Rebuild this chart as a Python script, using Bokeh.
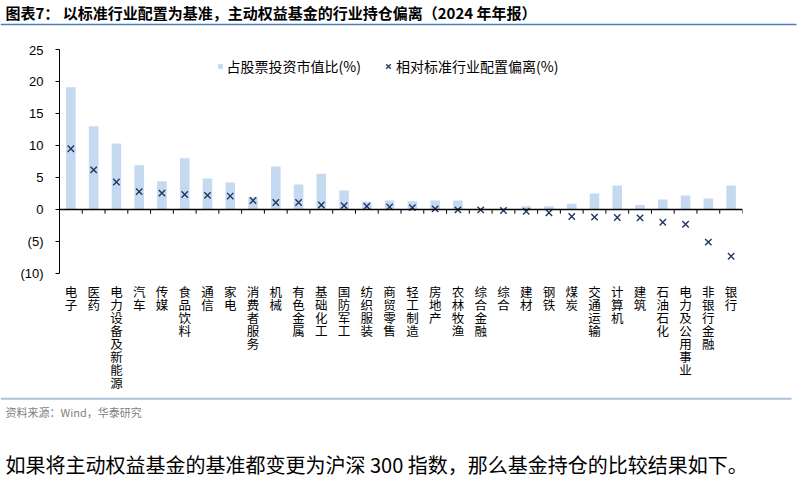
import numpy as np
from bokeh.plotting import figure
from bokeh.layouts import column
from bokeh.models import (FactorRange, Range1d, FixedTicker, Span, Label, BoxAnnotation,
                          Legend, LegendItem, CustomJSTickFormatter, ColumnDataSource)
from bokeh.core.properties import value
from bokeh.transform import dodge
from bokeh.embed import file_html
from bokeh.resources import INLINE

categories = ["电子", "医药", "电力设备及新能源", "汽车", "传媒", "食品饮料", "通信", "家电",
              "消费者服务", "机械", "有色金属", "基础化工", "国防军工", "纺织服装", "商贸零售",
              "轻工制造", "房地产", "农林牧渔", "综合金融", "综合", "建材", "钢铁", "煤炭",
              "交通运输", "计算机", "建筑", "石油石化", "电力及公用事业", "非银行金融", "银行"]
holding_pct = [19.1, 13.0, 10.3, 6.9, 4.4, 8.0, 4.85, 4.2,
               1.9, 6.7, 3.9, 5.6, 2.95, 1.2, 1.4,
               1.3, 1.4, 1.4, 0.05, 0.05, 0.5, 0.5, 0.9,
               2.5, 3.75, 0.7, 1.55, 2.2, 1.7, 3.75]
deviation_pct = [9.5, 6.2, 4.3, 2.8, 2.55, 2.35, 2.2, 2.1,
                 1.4, 1.1, 1.1, 0.7, 0.6, 0.5, 0.4,
                 0.3, 0.1, -0.05, -0.05, -0.15, -0.3, -0.5, -1.1,
                 -1.2, -1.25, -1.3, -2.0, -2.3, -5.1, -7.3]
y_ticks = [-10, -5, 0, 5, 10, 15, 20, 25]
y_tick_labels = ["(10)", "(5)", "0", "5", "10", "15", "20", "25"]
series_names = ["占股票投资市值比(%)", "相对标准行业配置偏离(%)"]
title_text = "图表7：  以标准行业配置为基准，主动权益基金的行业持仓偏离（2024 年年报）"
source_text = "资料来源：Wind，华泰研究"
paragraph_text = "如果将主动权益基金的基准都变更为沪深 300 指数，那么基金持仓的比较结果如下。"

CJK = "Noto Sans CJK SC"
LAT = "Liberation Sans"
BAR_COLOR = "#c5d9f1"
MARK_COLOR = "#1f3864"

W = 800
H_TOP, H_MAIN, H_LAB, H_BOT = 42, 239, 114, 84
L, R = 59, 58


def bare(height, **kw):
    f = figure(width=W, height=height, output_backend="svg", toolbar_location=None,
               x_axis_location=None, y_axis_location=None, frame_align=False, **kw)
    f.xgrid.visible = False
    f.ygrid.visible = False
    f.outline_line_color = None
    f.background_fill_color = "white"
    f.border_fill_color = "white"
    return f


# ---- top strip: title + rule
top = bare(H_TOP, x_range=Range1d(0, 1), y_range=Range1d(0, 1), min_border=0)
top.add_layout(Label(x=5, y=H_TOP - 12, x_units="screen", y_units="screen", text=title_text,
                     text_font=CJK, text_font_style="bold", text_font_size="15px",
                     text_baseline="middle", text_align="left", text_color="black"))
top.add_layout(BoxAnnotation(left=0, right=796, top=H_TOP - 23.2, bottom=H_TOP - 24.8,
                             left_units="screen", right_units="screen",
                             top_units="screen", bottom_units="screen",
                             fill_color="#4a7ebb", fill_alpha=1, line_alpha=0))

# ---- main chart
x_range = FactorRange(factors=categories)
p = figure(width=W, height=H_MAIN, x_range=x_range,
           y_range=Range1d(y_ticks[0], y_ticks[-1]),
           output_backend="svg", toolbar_location=None, x_axis_location=None,
           frame_align=False,
           min_border_left=L, min_border_right=R, min_border_top=7, min_border_bottom=8)
p.xgrid.visible = False
p.ygrid.visible = False
p.outline_line_color = None
p.background_fill_color = "white"
p.border_fill_color = "white"

p.yaxis.ticker = FixedTicker(ticks=y_ticks)
p.yaxis.formatter = CustomJSTickFormatter(args=dict(tvals=y_ticks, tlabels=y_tick_labels), code="""
const i = tvals.indexOf(tick);
return i >= 0 ? tlabels[i] : String(tick);
""")
p.yaxis.major_label_text_font = LAT
p.yaxis.major_label_text_font_size = "13px"
p.yaxis.major_label_text_color = "black"
p.yaxis.axis_line_color = "black"
p.yaxis.major_tick_line_color = "black"
p.yaxis.major_tick_in = 0
p.yaxis.major_tick_out = 4
p.yaxis.minor_tick_line_color = None
p.yaxis.major_label_standoff = 12

p.add_layout(Span(location=0, dimension="width", line_color="black", line_width=1.3))
tick_src = ColumnDataSource(dict(cat=categories,
                                 y0=np.zeros(len(categories)),
                                 y1=np.full(len(categories), -0.65)))
p.segment(x0=dodge("cat", 0.5, range=x_range), y0="y0",
          x1=dodge("cat", 0.5, range=x_range), y1="y1",
          source=tick_src, line_color="black", line_width=1)

bars = p.vbar(x=categories, top=holding_pct, width=0.42, fill_color=BAR_COLOR, line_color=None)
marks = p.scatter(x=categories, y=deviation_pct, marker="x", size=9,
                  line_color=MARK_COLOR, line_width=1.4)

leg_common = dict(padding=0, margin=0, border_line_color=None, background_fill_alpha=0,
                  label_text_font=CJK, label_text_font_size="14px", label_text_color="black",
                  label_height=20, orientation="horizontal")
# legend location = bottom-left corner, frame-relative, y upwards (frame spans y 49..273)
leg1 = Legend(items=[LegendItem(label=series_names[0], renderers=[bars])],
              location=(216.5 - L, 273 - 76), glyph_width=6, glyph_height=6,
              label_standoff=4, **leg_common)
leg2 = Legend(items=[LegendItem(label=series_names[1], renderers=[marks])],
              location=(380 - L, 273 - 76), glyph_width=16, glyph_height=16,
              label_standoff=0, **leg_common)
p.add_layout(leg1)
p.add_layout(leg2)

# ---- category label strip (vertical CJK text, one character per row)
lab = bare(H_LAB, x_range=x_range, y_range=Range1d(0.746 - H_LAB / 13.0, 0.746),
           min_border_left=L, min_border_right=R, min_border_top=0, min_border_bottom=0)
ch_x, ch_y, ch_t = [], [], []
for c in categories:
    for j, ch in enumerate(c):
        ch_x.append(c)
        ch_y.append(-j)
        ch_t.append(ch)
lab.text(x=ch_x, y=ch_y, text=ch_t, text_font=value(CJK), text_font_size="12.5px",
         text_align="center", text_baseline="middle", text_color="black")

# ---- bottom strip: rule, source, paragraph
bot = bare(H_BOT, x_range=Range1d(0, 1), y_range=Range1d(0, 1), min_border=0)
bot.add_layout(BoxAnnotation(left=0, right=791, top=H_BOT - 2.2, bottom=H_BOT - 4.2,
                             left_units="screen", right_units="screen",
                             top_units="screen", bottom_units="screen",
                             fill_color="#adc0da", fill_alpha=1, line_alpha=0))
bot.add_layout(Label(x=5, y=H_BOT - 16, x_units="screen", y_units="screen", text=source_text,
                     text_font=CJK, text_font_size="11px", text_baseline="middle",
                     text_align="left", text_color="#7f7f7f"))
bot.add_layout(Label(x=5, y=H_BOT - 69, x_units="screen", y_units="screen", text=paragraph_text,
                     text_font=CJK, text_font_size="20px", text_baseline="middle",
                     text_align="left", text_color="black"))

layout = column(top, p, lab, bot, spacing=0)
open("out.html", "w").write(file_html(layout, INLINE))
